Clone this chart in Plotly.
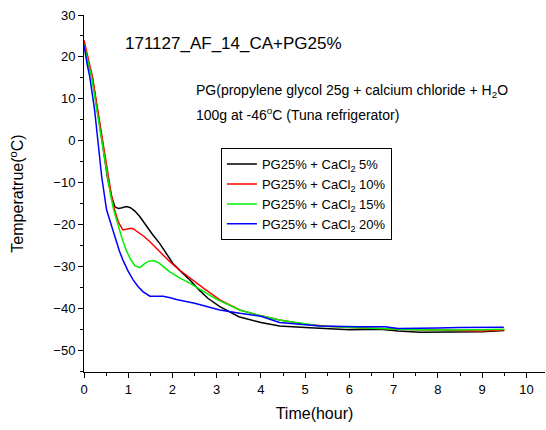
import plotly.graph_objects as go

# ---- data ----
names = [
    "PG25% + CaCl<sub>2</sub> 5%",
    "PG25% + CaCl<sub>2</sub> 10%",
    "PG25% + CaCl<sub>2</sub> 15%",
    "PG25% + CaCl<sub>2</sub> 20%",
]
colors = ["#000000", "#ff0000", "#00f000", "#0000ff"]

t_5 = [0, 0.05, 0.1, 0.19, 0.3, 0.42, 0.53, 0.62, 0.7, 0.78, 0.86, 0.96, 1.05, 1.15, 1.26,
       1.4, 1.55, 1.71, 1.86, 2.01, 2.2, 2.39, 2.6, 2.8, 3.07, 3.5, 4.0, 4.42, 5.0, 5.33,
       6.0, 6.69, 7.1, 7.6, 8.3, 9.0, 9.5]
T_5 = [23.5, 21.0, 18.5, 15.0, 7.8, -0.8, -8.8, -13.2, -15.8, -16.2, -16.0, -15.7, -16.0, -16.8, -18.1,
       -20.2, -22.4, -24.5, -27.0, -29.3, -31.3, -33.2, -35.6, -37.6, -39.6, -42.0, -43.4, -44.2, -44.6, -44.8,
       -45.1, -45.0, -45.4, -45.7, -45.7, -45.6, -45.3]

t_10 = [0, 0.05, 0.1, 0.19, 0.3, 0.43, 0.54, 0.62, 0.69, 0.78, 0.88, 0.97, 1.05, 1.11, 1.2,
        1.35, 1.49, 1.7, 1.94, 2.15, 2.39, 2.7, 3.07, 3.52, 4.0, 4.42, 5.0, 5.5, 6.0, 6.5,
        7.0, 7.5, 8.0, 8.5, 9.0, 9.5]
T_10 = [24.0, 21.6, 19.0, 15.3, 8.0, -0.6, -8.6, -13.0, -16.5, -19.5, -21.3, -21.0, -20.9, -21.0, -21.6,
        -22.8, -24.1, -26.4, -28.9, -30.8, -32.8, -35.2, -38.0, -40.4, -41.8, -42.8, -43.8, -44.3, -44.6, -44.8,
        -45.0, -45.1, -45.2, -45.3, -45.4, -45.2]

t_15 = [0, 0.05, 0.1, 0.17, 0.28, 0.41, 0.52, 0.6, 0.67, 0.75, 0.85, 0.95, 1.05, 1.15, 1.26,
        1.35, 1.45, 1.58, 1.7, 1.94, 2.15, 2.39, 2.7, 2.99, 3.52, 4.0, 4.42, 5.0, 5.33, 6.0,
        6.5, 7.0, 7.5, 8.0, 8.5, 9.0, 9.5]
T_15 = [23.0, 20.8, 18.3, 15.3, 8.0, -0.6, -8.6, -13.0, -16.5, -19.6, -23.0, -26.0, -28.3, -29.8, -30.3,
        -29.5, -28.8, -28.6, -29.2, -31.3, -32.7, -34.0, -36.0, -37.8, -40.4, -41.8, -42.8, -43.8, -44.2, -44.6,
        -44.8, -45.0, -45.1, -45.2, -45.2, -45.1, -45.0]

t_20 = [0, 0.03, 0.07, 0.13, 0.19, 0.24, 0.32, 0.4, 0.51, 0.58, 0.7, 0.8, 0.88, 1.0, 1.11,
        1.22, 1.33, 1.42, 1.49, 1.65, 1.79, 1.95, 2.09, 2.5, 3.07, 3.52, 4.0, 4.42, 5.0, 5.33,
        6.2, 6.8, 7.1, 7.6, 8.0, 8.5, 9.0, 9.49]
T_20 = [22.8, 20.5, 18.3, 15.3, 10.5, 7.3, -0.6, -8.6, -16.5, -18.9, -23.0, -26.3, -28.5, -31.2, -33.2,
        -34.8, -36.0, -36.7, -37.1, -37.1, -37.1, -37.5, -37.9, -38.8, -40.4, -41.2, -41.9, -43.4, -43.9, -44.2,
        -44.4, -44.4, -44.8, -44.8, -44.7, -44.6, -44.6, -44.5]

series_t = [t_5, t_10, t_15, t_20]
series_T = [T_5, T_10, T_15, T_20]

title_text = "171127_AF_14_CA+PG25%"
note_line1 = "PG(propylene glycol 25g + calcium chloride + H<sub>2</sub>O"
note_line2 = "100g at -46<sup>o</sup>C (Tuna refrigerator)"
x_title = "Time(hour)"
y_title = "Temperatrue(<sup>o</sup>C)"

FONT = "Liberation Sans, Arial, sans-serif"

fig = go.Figure()
for name, col, tt, TT in zip(names, colors, series_t, series_T):
    fig.add_trace(go.Scatter(x=tt, y=TT, mode="lines", name=name,
                             line=dict(color=col, width=1.5)))

fig.update_layout(
    width=546, height=430,
    margin=dict(l=84, r=1, t=15, b=58, autoexpand=False),
    paper_bgcolor="white", plot_bgcolor="white",
    font=dict(family=FONT, size=13, color="black"),
    showlegend=True,
    legend=dict(x=0.297, y=0.627, xanchor="left", yanchor="top",
                bordercolor="black", borderwidth=1, bgcolor="white",
                font=dict(family=FONT, size=13, color="black"),
                tracegroupgap=0),
    xaxis=dict(range=[0, 10.42], dtick=1, tick0=0, showgrid=False, zeroline=False,
               showline=True, linecolor="black", linewidth=1, automargin=False,
               ticks="outside", ticklen=5, tickcolor="black",
               minor=dict(dtick=0.5, ticks="outside", ticklen=3, tickcolor="black"),
               title=dict(text=x_title, font=dict(size=16), standoff=12),
               tickfont=dict(size=13)),
    yaxis=dict(range=[-55.2, 30], dtick=10, tick0=0, showgrid=False, zeroline=False,
               showline=True, linecolor="black", linewidth=1, automargin=False,
               ticks="outside", ticklen=5, tickcolor="black",
               minor=dict(dtick=5, ticks="outside", ticklen=3, tickcolor="black"),
               title=dict(text=y_title, font=dict(size=16), standoff=25),
               tickfont=dict(size=13)),
    annotations=[
        dict(text=title_text, xref="paper", yref="paper", x=(123 - 84) / 461, y=(372 - 43) / 357,
             xanchor="left", yanchor="middle", showarrow=False, font=dict(size=17)),
        dict(text=note_line1, xref="paper", yref="paper", x=(194 - 84) / 461, y=(372 - 91) / 357,
             xanchor="left", yanchor="middle", showarrow=False, font=dict(size=14)),
        dict(text=note_line2, xref="paper", yref="paper", x=(194 - 84) / 461, y=(372 - 114) / 357,
             xanchor="left", yanchor="middle", showarrow=False, font=dict(size=14)),
    ],
)

fig.write_html("out.html", config={"displayModeBar": False},
               post_script="document.body.style.margin='0';document.body.style.overflow='hidden';")
